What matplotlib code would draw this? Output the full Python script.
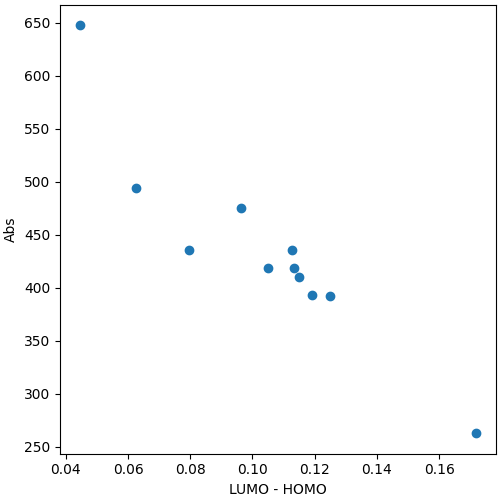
import matplotlib
matplotlib.use("Agg")
import matplotlib.pyplot as plt

gap = [0.0445, 0.0625, 0.0796, 0.0963, 0.1050, 0.1127, 0.1134, 0.1150, 0.1192, 0.1249, 0.1719]
absorb = [648, 494, 436, 475, 419, 436, 419, 410, 393, 392, 263]

fig, ax = plt.subplots(figsize=(5, 5), dpi=100)
ax.scatter(gap, absorb, color="#1f77b4")
ax.set_xlabel("LUMO - HOMO")
ax.set_ylabel("Abs")
fig.subplots_adjust(left=0.12, right=0.992, bottom=0.093, top=0.991)
fig.savefig("out.png")
